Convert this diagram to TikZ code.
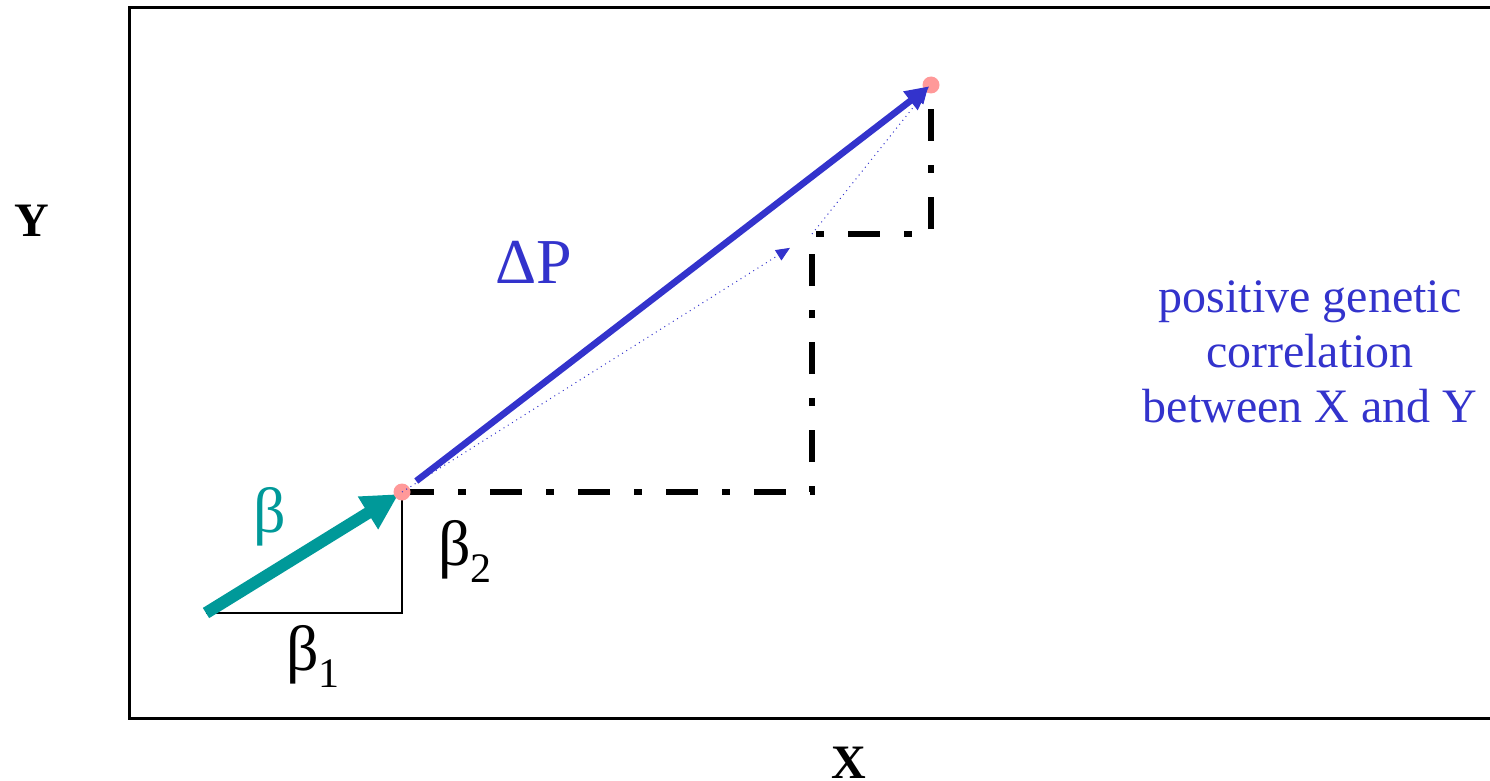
\documentclass[tikz,border=0pt]{standalone}
\usepackage{fontspec}
\setmainfont{Liberation Serif}
\usetikzlibrary{arrows.meta}
\definecolor{gcink}{HTML}{000000}
\definecolor{gcblue}{HTML}{3333CC}
\definecolor{gcteal}{HTML}{009999}
\definecolor{gcpink}{HTML}{FF9999}
\newcommand{\gcsub}[1]{\raisebox{-0.28em}{\fontsize{21}{21}\selectfont #1}}
\tikzset{
  gcframe/.style={
    draw=gcink,
    line width=1.5pt
  },
  gcdot/.style={
    circle,
    fill=gcpink,
    draw=none,
    minimum size=8.5pt,
    inner sep=0pt
  },
  gcselect/.style={
    -{Triangle[length=18pt,width=18pt]},
    line width=6pt,
    color=gcteal
  },
  gcresponse/.style={
    -{Triangle[length=12pt,width=11pt]},
    line width=3.3pt,
    color=gcblue
  },
  gcpart/.style={
    -{Triangle[length=7pt,width=6pt]},
    line width=0.5pt,
    color=gcblue,
    dotted
  },
  gcstair/.style={
    line width=3pt,
    color=gcink,
    dash pattern=on 16pt off 12pt on 4pt off 12pt
  },
  gcthin/.style={
    line width=1pt,
    color=gcink
  },
  gcaxis/.style={
    font=\fontsize{24}{24}\selectfont\bfseries,
    text=gcink,
    inner sep=0pt
  },
  gcgreek/.style={
    font=\fontsize{32}{32}\selectfont,
    inner sep=0pt
  },
  gcnote/.style={
    font=\fontsize{24}{27.5}\selectfont,
    text=gcblue,
    align=center
  }
}
\begin{document}
\begin{tikzpicture}[x=0.5pt,y=-0.5pt]
  \useasboundingbox (0,0) rectangle (1490,781);
  \draw[gcframe] (1490,8) -| (129,718) -- (1490,718);

  \coordinate (origin) at (206,613);
  \coordinate (corner) at (812,234);
  \coordinate (base) at (402,492);
  \coordinate (tip) at (931,85);

  \draw[gcthin] (origin) -| (base);
  \draw[gcstair] (base) -| (corner) -| (tip);
  \draw[gcselect, shorten >=2pt] (origin) -- (base);

  \node[gcdot] (basedot) at (base) {};
  \node[gcdot] (tipdot) at (tip) {};

  \draw[gcresponse, shorten <=9pt, shorten >=1pt] (base) -- (tip);
  \draw[gcpart, shorten >=13pt] (base) -- (corner);
  \draw[gcpart, shorten >=3pt] (corner) -- (tip);

  \node[gcaxis] (ylab) at (32,221) {Y};
  \node[gcaxis] (xlab) at (849,763) {X};
  \node[gcgreek, text=gcblue] (dplab) at (534,262) {ΔP};
  \node[gcgreek, text=gcteal] (blab) at (270,517) {β};
  \node[gcgreek, anchor=base west] (b2lab) at (438,565) {β\gcsub{2}};
  \node[gcgreek, anchor=base west] (b1lab) at (286,670) {β\gcsub{1}};
  \node[gcnote] (note) at (1310,352) {positive genetic\\correlation\\between X and Y};
\end{tikzpicture}
\end{document}
